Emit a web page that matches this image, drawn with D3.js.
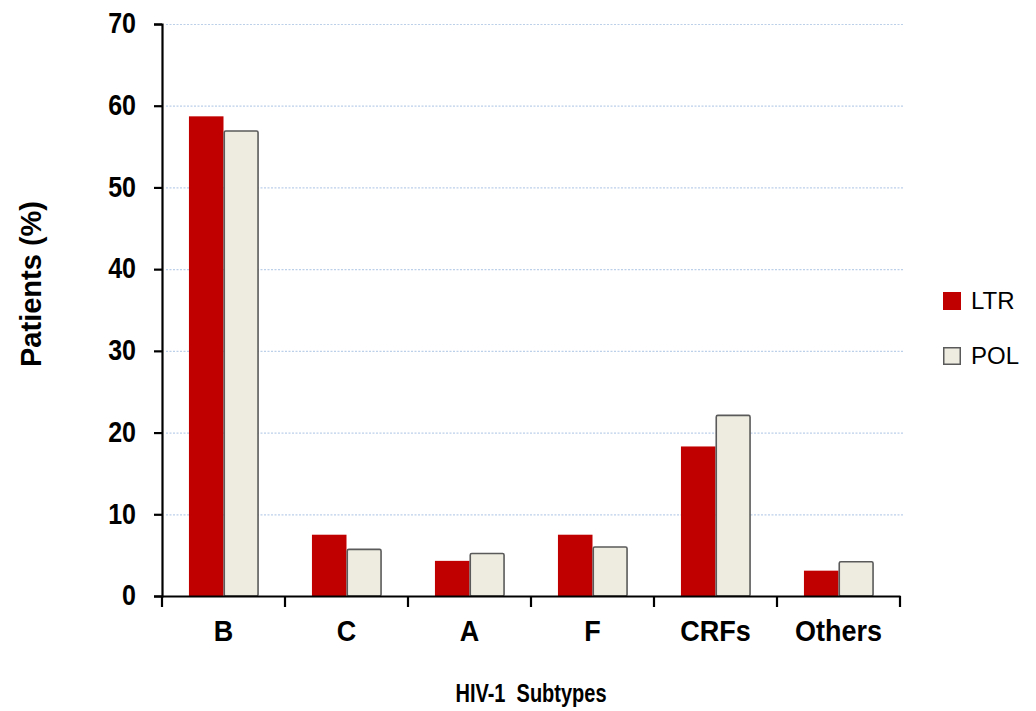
<!DOCTYPE html>
<html>
<head>
<meta charset="utf-8">
<script src="https://cdn.jsdelivr.net/npm/d3@7"></script>
<style>
  html, body { margin: 0; padding: 0; background: #ffffff; }
  svg { display: block; font-family: "Liberation Sans", Arial, sans-serif; }
</style>
</head>
<body>
<svg id="chart" width="1036" height="711"></svg>
<script>
// HIV-1 subtype distribution by genomic region
const subtypes = ["B", "C", "A", "F", "CRFs", "Others"];
const seriesNames = ["LTR", "POL"];
const ltrValues = [58.7, 7.5, 4.3, 7.5, 18.3, 3.1];
const polValues = [56.9, 5.7, 5.2, 6.0, 22.1, 4.2];
const yTicks = [0, 10, 20, 30, 40, 50, 60, 70];

const colors = { LTR: "#c00000", POL: "#eeece1" };

const rows = subtypes.map((s, i) => ({ subtype: s, LTR: ltrValues[i], POL: polValues[i] }));

const svg = d3.select("#chart");
const plot = { left: 162, right: 900, top: 24, bottom: 596 };

const x0 = d3.scaleBand().domain(subtypes).range([plot.left, plot.right]).padding(0);
const x1 = d3.scaleBand().domain(seriesNames).range([0, x0.bandwidth()])
  .paddingInner(0).paddingOuter(0.78);
const y = d3.scaleLinear().domain([0, 70]).range([plot.bottom, plot.top]);

// dotted horizontal gridlines
svg.append("g")
  .selectAll("line")
  .data(yTicks.filter(t => t > 0))
  .join("line")
  .attr("x1", plot.left + 4)
  .attr("x2", plot.right + 3)
  .attr("y1", d => y(d) + 0.5)
  .attr("y2", d => y(d) + 0.5)
  .attr("stroke", "#bcd0ea")
  .attr("stroke-width", 1.2)
  .attr("stroke-dasharray", "2,1.5");

// grouped bars
const groups = svg.append("g")
  .selectAll("g")
  .data(rows)
  .join("g")
  .attr("transform", d => `translate(${x0(d.subtype)},0)`);

groups.selectAll("rect")
  .data(d => seriesNames.map(k => ({ key: k, value: d[k] })))
  .join("rect")
  .attr("x", d => x1(d.key) + (d.key === "POL" ? 0.75 : 0))
  .attr("y", d => y(d.value))
  .attr("width", d => x1.bandwidth() - (d.key === "POL" ? 0.75 : 0))
  .attr("height", d => y(0) - y(d.value))
  .attr("fill", d => colors[d.key])
  .attr("stroke", d => d.key === "POL" ? "#5a5a5a" : "none")
  .attr("stroke-width", 1.6)
  .attr("rx", d => d.key === "POL" ? 1.5 : 0);

// y axis
const yAxis = svg.append("g")
  .attr("transform", `translate(${plot.left},0)`)
  .call(d3.axisLeft(y).tickValues(yTicks).tickSize(8).tickPadding(18).tickFormat(d3.format("d")));
yAxis.select(".domain").attr("stroke", "#000").attr("stroke-width", 2.2);
yAxis.selectAll(".tick line").attr("stroke", "#000").attr("stroke-width", 2.2);
yAxis.selectAll(".tick text")
  .attr("fill", "#000")
  .attr("font-size", 25)
  .attr("font-weight", "bold")
  .attr("font-family", "'Liberation Sans', Arial, sans-serif")
  .attr("dy", "0.3em")
  .attr("transform", "scale(1,1.18)");

// x axis
const xAxis = svg.append("g")
  .attr("transform", `translate(0,${plot.bottom})`)
  .call(d3.axisBottom(x0).tickSize(0).tickPadding(40));
xAxis.select(".domain").attr("stroke", "#000").attr("stroke-width", 2.2);
xAxis.selectAll(".tick text")
  .attr("fill", "#000")
  .attr("font-size", 27)
  .attr("font-weight", "bold")
  .attr("font-family", "'Liberation Sans', Arial, sans-serif")
  .attr("dy", 0)
  .attr("transform", "scale(1,1.12)");

// category separators on the x axis
xAxis.append("g")
  .selectAll("line")
  .data(subtypes.map(s => x0(s)).concat([x0.range()[1]]))
  .join("line")
  .attr("x1", d => d).attr("x2", d => d)
  .attr("y1", 0).attr("y2", 11)
  .attr("stroke", "#000")
  .attr("stroke-width", 2.2);

// axis titles
svg.append("text")
  .attr("transform", `translate(41,${(plot.top + plot.bottom) / 2 - 26}) rotate(-90)`)
  .attr("text-anchor", "middle")
  .attr("font-size", 29)
  .attr("font-weight", "bold")
  .text("Patients (%)");

svg.append("text")
  .attr("transform", `translate(${(plot.left + plot.right) / 2},702) scale(1,1.3)`)
  .attr("text-anchor", "middle")
  .attr("font-size", 20)
  .attr("font-weight", "bold")
  .attr("xml:space", "preserve")
  .style("white-space", "pre")
  .text("HIV-1  Subtypes");

// legend
const legend = svg.append("g")
  .selectAll("g")
  .data(seriesNames)
  .join("g")
  .attr("transform", (d, i) => `translate(943,${292 + i * 55})`);

legend.append("rect")
  .attr("x", d => d === "POL" ? 0.75 : 0)
  .attr("y", d => d === "POL" ? 0.75 : 0)
  .attr("width", d => d === "POL" ? 16.5 : 18)
  .attr("height", d => d === "POL" ? 16.5 : 18)
  .attr("fill", d => colors[d])
  .attr("stroke", d => d === "POL" ? "#5a5a5a" : "none")
  .attr("stroke-width", 1.5);

legend.append("text")
  .attr("x", 28)
  .attr("y", 17)
  .attr("font-size", 24)
  .attr("fill", "#000")
  .text(d => d);
</script>
</body>
</html>
